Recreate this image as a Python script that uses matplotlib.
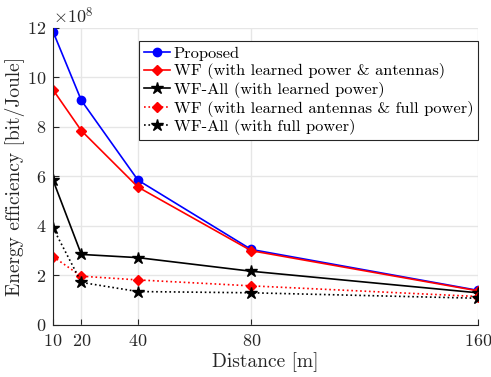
import matplotlib
matplotlib.use("Agg")
import matplotlib.pyplot as plt

plt.rcParams['font.family'] = ['cmr10', 'DejaVu Serif']
plt.rcParams['mathtext.fontset'] = 'cm'
plt.rcParams['axes.formatter.use_mathtext'] = True

distance = [10, 20, 40, 80, 160]
proposed = [11.85, 9.07, 5.85, 3.05, 1.40]
wf_learned = [9.50, 7.85, 5.57, 3.00, 1.38]
wfall_learned = [5.85, 2.85, 2.72, 2.17, 1.30]
wf_full = [2.76, 1.97, 1.82, 1.58, 1.15]
wfall_full = [3.92, 1.72, 1.35, 1.30, 1.08]
labels = ['Proposed', 'WF (with learned power & antennas)', 'WF-All (with learned power)',
          'WF (with learned antennas & full power)', 'WF-All (with full power)']

fig = plt.figure(figsize=(4.91, 3.77), dpi=100)
ax = fig.add_axes([0.108, 0.138, 0.865, 0.788])

ax.plot(distance, proposed, '-o', color='blue', ms=6, lw=1.2, label=labels[0])
ax.plot(distance, wf_learned, '-D', color='red', ms=5.5, lw=1.2, label=labels[1])
ax.plot(distance, wfall_learned, '-*', color='black', ms=9, lw=1.2, label=labels[2])
ax.plot(distance, wf_full, ':D', color='red', ms=5.5, lw=1.2, label=labels[3])
ax.plot(distance, wfall_full, ':*', color='black', ms=9, lw=1.2, label=labels[4])

ax.set_xlim(10, 160)
ax.set_ylim(0, 12)
ax.set_xticks(distance)
ax.set_yticks([0, 2, 4, 6, 8, 10, 12])
ax.grid(True, color='#e6e6e6', lw=1)
ax.set_axisbelow(True)
for s in ['top', 'right']:
    ax.spines[s].set_visible(False)
for s in ['left', 'bottom']:
    ax.spines[s].set_color('#262626')
ax.tick_params(direction='in', labelsize=13, colors='#262626', length=4)
ax.tick_params(axis='x', pad=6)
ax.tick_params(axis='y', pad=5)
ax.set_xlabel('Distance [m]', fontsize=14, color='#262626', labelpad=2)
ax.set_ylabel('Energy efficiency [bit/Joule]', fontsize=14, color='#262626', labelpad=1)
ax.text(0.0, 1.005, r'$\times10^{8}$', transform=ax.transAxes, fontsize=13,
        color='#262626', ha='left', va='bottom')
leg = ax.legend(loc='upper left', bbox_to_anchor=(0.203, 0.955), fontsize=11.8,
                frameon=True, fancybox=False, edgecolor='#262626', framealpha=1,
                handlelength=1.6, handletextpad=0.2, borderpad=0.3, labelspacing=0.16,
                borderaxespad=0)
leg.get_frame().set_linewidth(0.8)
fig.savefig('out.png', dpi=100)
